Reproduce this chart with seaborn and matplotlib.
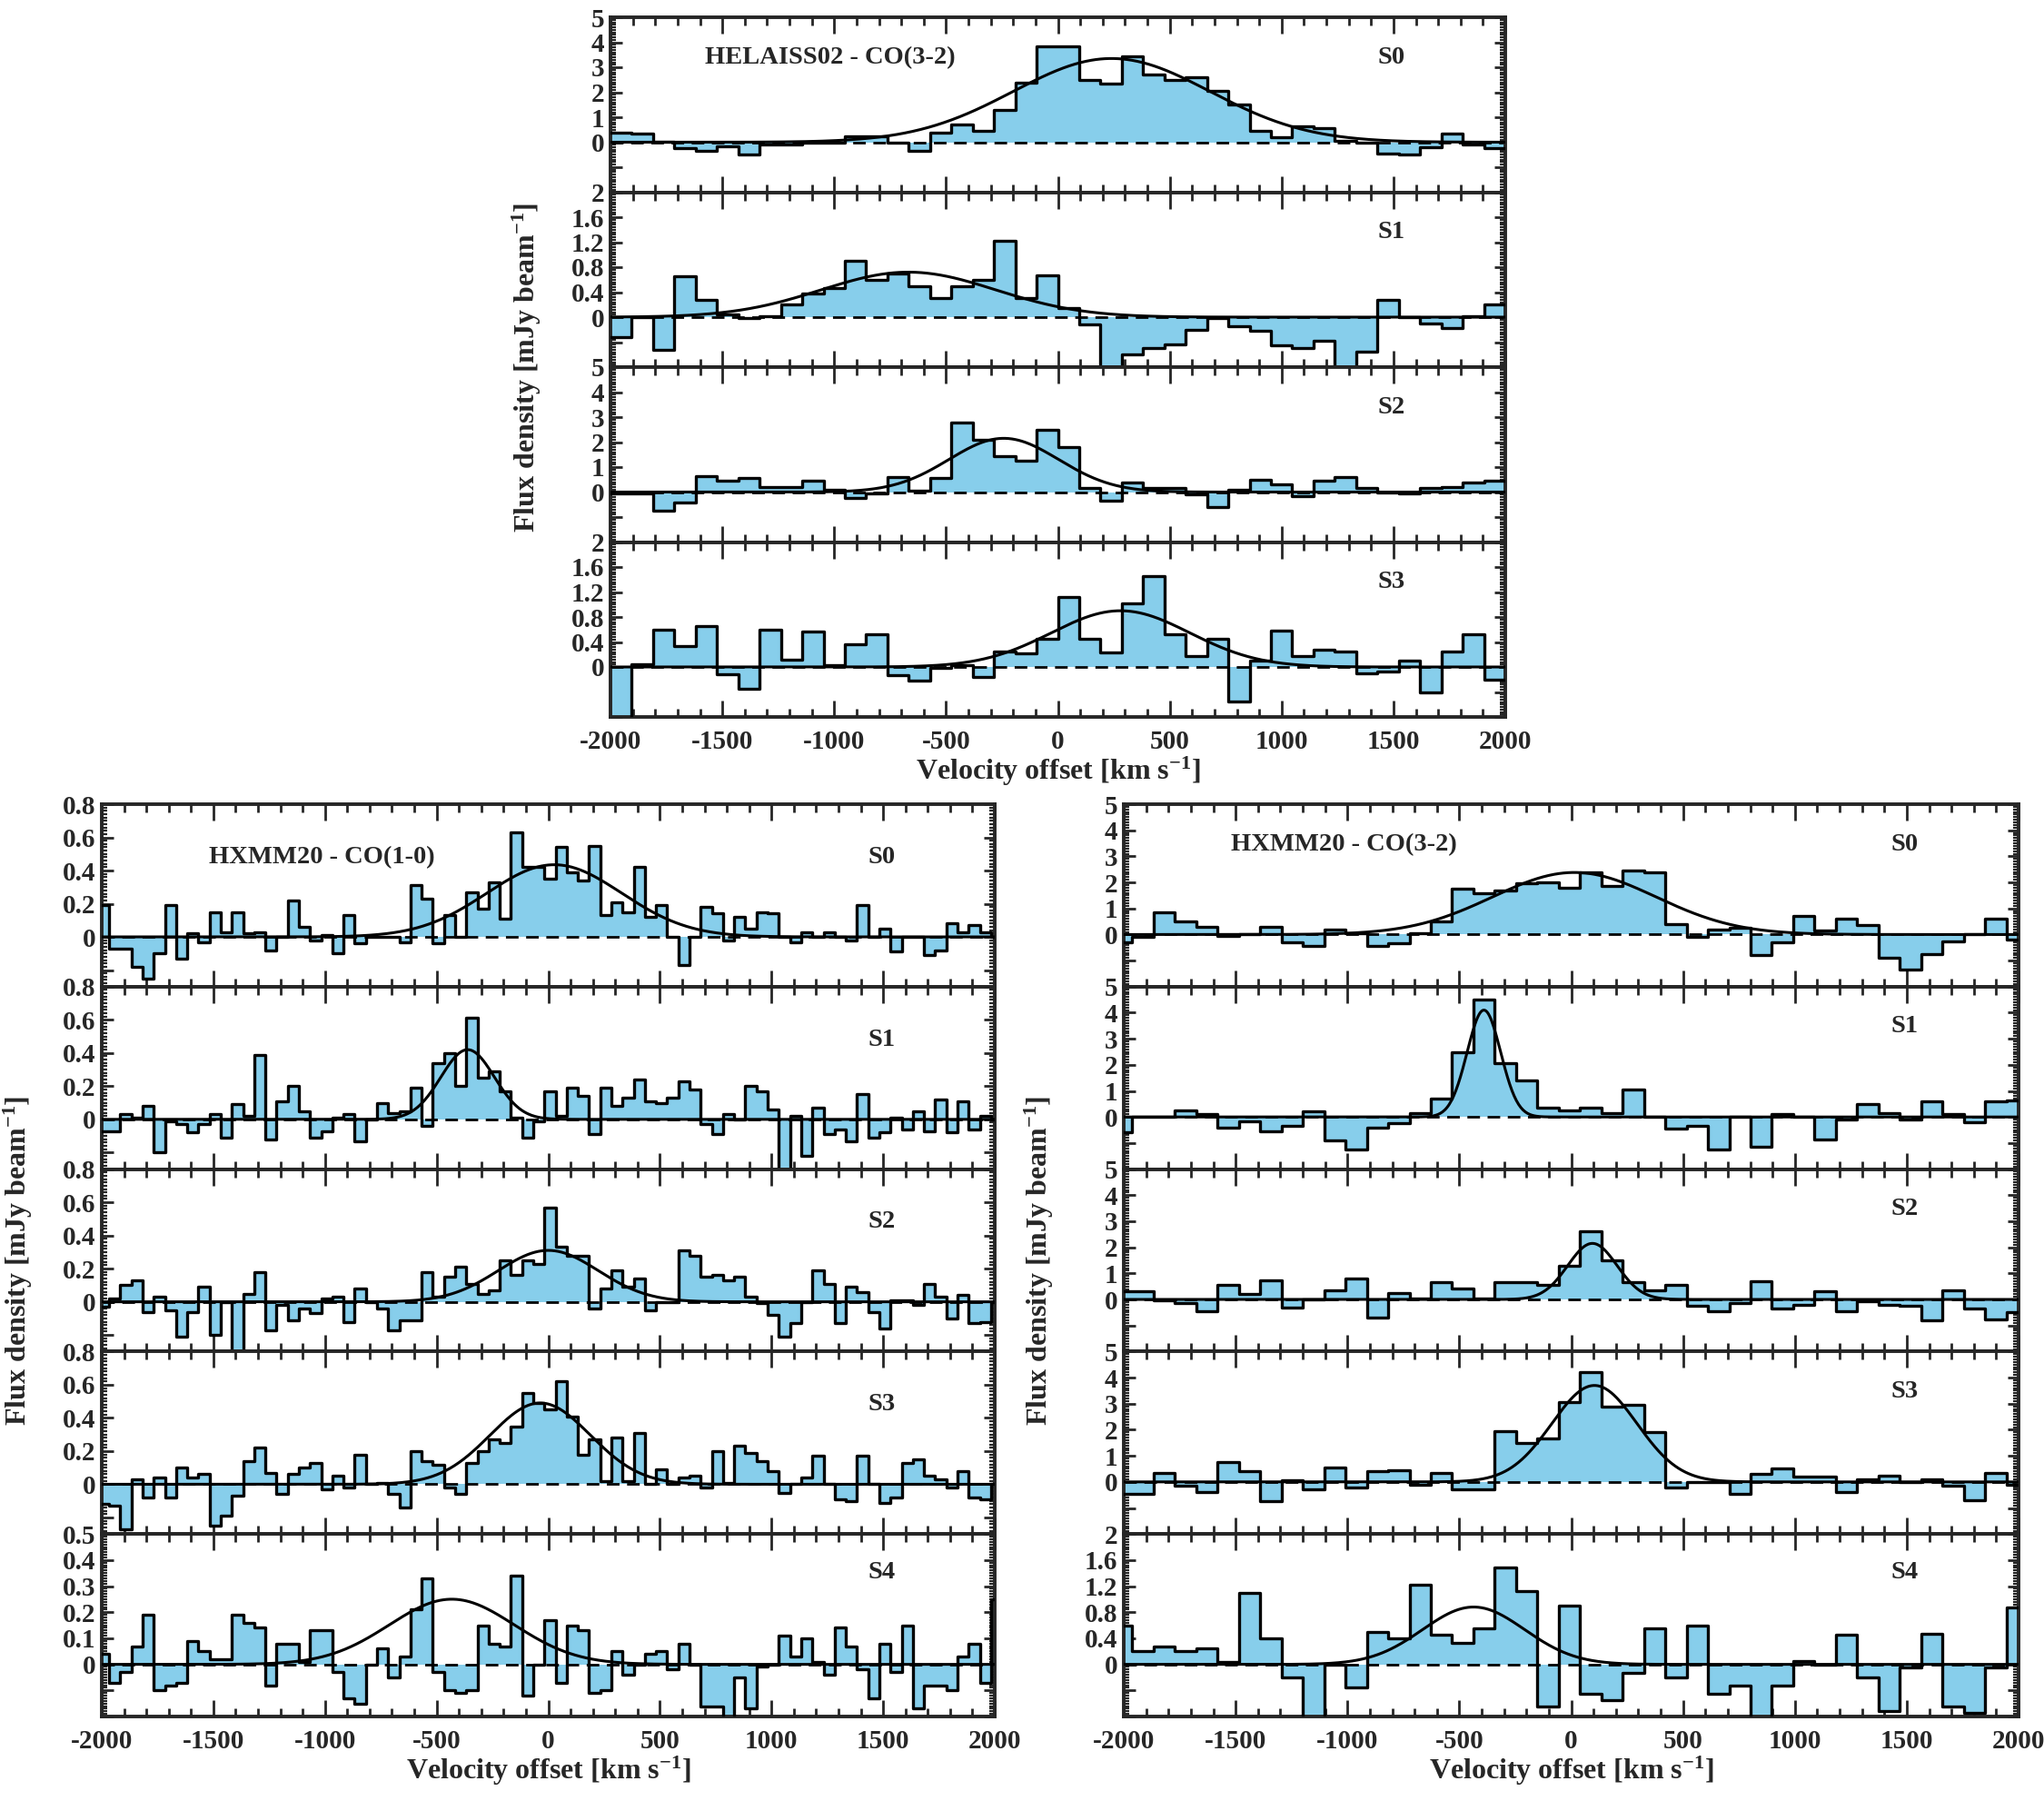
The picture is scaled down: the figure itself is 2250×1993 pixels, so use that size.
import numpy as np
import pandas as pd
import matplotlib
matplotlib.use("Agg")
import matplotlib.pyplot as plt
from matplotlib.ticker import MultipleLocator, AutoMinorLocator, FuncFormatter
import seaborn as sns

# -----------------------------------
# Data (flux per velocity channel, mJy/beam)
# -----------------------------------
TOP_EDGES = np.linspace(-2000, 2000, 43)          # HELAISS02 CO(3-2) channels
BL_EDGES = np.arange(82) * 50.0 - 2017            # HXMM20 CO(1-0) channels
BR_EDGES = np.arange(44) * 95.3 - 2057            # HXMM20 CO(3-2) channels

HEL_S0 = [0.38, 0.33, 0.02, -0.25, -0.35, -0.15, -0.5, -0.1, -0.1, 0.0,
          0.0, 0.25, 0.22, -0.03, -0.35, 0.4, 0.7, 0.45, 1.3, 2.4,
          3.85, 3.85, 2.5, 2.35, 3.45, 2.7, 2.5, 2.6, 2.05, 1.5,
          0.45, 0.2, 0.65, 0.55, 0.05, 0.0, -0.45, -0.5, -0.2, 0.35,
          -0.1, -0.25]
HEL_S1 = [-0.32, 0.0, -0.53, 0.65, 0.27, 0.05, -0.02, 0.01, 0.2, 0.38,
          0.47, 0.9, 0.6, 0.7, 0.5, 0.3, 0.5, 0.6, 1.22, 0.3,
          0.67, 0.15, -0.12, -0.85, -0.6, -0.5, -0.43, -0.2, -0.02, -0.15,
          -0.22, -0.45, -0.5, -0.38, -0.85, -0.55, 0.27, 0.0, -0.1, -0.17,
          0.02, 0.2]
HEL_S2 = [-0.05, -0.05, -0.75, -0.4, 0.65, 0.45, 0.55, 0.2, 0.2, 0.45,
          0.1, -0.25, -0.05, 0.6, 0.05, 0.55, 2.8, 2.1, 1.45, 1.25,
          2.5, 1.8, 0.15, -0.35, 0.4, 0.15, 0.15, -0.1, -0.6, 0.1,
          0.5, 0.3, -0.15, 0.45, 0.6, 0.15, 0.0, -0.05, 0.15, 0.2,
          0.38, 0.45]
HEL_S3 = [-0.85, 0.05, 0.6, 0.33, 0.65, -0.12, -0.35, 0.6, 0.12, 0.57,
          0.03, 0.36, 0.53, -0.13, -0.22, -0.02, 0.03, -0.16, 0.25, 0.22,
          0.45, 1.12, 0.45, 0.24, 1.02, 1.45, 0.52, 0.18, 0.45, -0.55,
          0.1, 0.58, 0.17, 0.28, 0.25, -0.1, -0.07, 0.1, -0.4, 0.25,
          0.53, -0.2]

C10_S0 = [0.19, -0.07, -0.07, -0.18, -0.25, -0.1, 0.19, -0.13, 0.02, -0.03,
          0.15, 0.03, 0.15, 0.02, 0.03, -0.08, 0.0, 0.22, 0.06, -0.02,
          0.01, -0.1, 0.13, -0.04, 0.0, 0.0, 0.0, -0.03, 0.31, 0.23,
          -0.04, 0.13, 0.0, 0.27, 0.17, 0.33, 0.11, 0.63, 0.42, 0.42,
          0.35, 0.54, 0.39, 0.34, 0.55, 0.13, 0.21, 0.15, 0.42, 0.12,
          0.19, 0.0, -0.17, 0.0, 0.18, 0.14, -0.02, 0.12, 0.05, 0.15,
          0.14, 0.0, -0.03, 0.03, 0.0, 0.03, 0.0, -0.02, 0.19, 0.0,
          0.05, -0.09, 0.0, 0.0, -0.11, -0.08, 0.08, 0.03, 0.07, 0.03,
          0.0]
C10_S1 = [-0.07, -0.07, 0.03, 0.01, 0.08, -0.2, -0.01, -0.03, -0.08, -0.03,
          0.03, -0.11, 0.09, 0.02, 0.39, -0.12, 0.11, 0.2, 0.05, -0.11,
          -0.07, 0.01, 0.03, -0.13, 0.0, 0.1, 0.04, 0.05, 0.19, -0.04,
          0.34, 0.4, 0.2, 0.61, 0.25, 0.29, 0.17, 0.01, -0.11, -0.01,
          0.17, 0.02, 0.19, 0.14, -0.09, 0.19, 0.08, 0.13, 0.24, 0.11,
          0.1, 0.13, 0.23, 0.18, -0.03, -0.09, 0.03, 0.0, 0.2, 0.17,
          0.06, -0.32, 0.02, -0.22, 0.07, -0.09, -0.06, -0.13, 0.15, -0.11,
          -0.08, 0.01, -0.06, 0.05, -0.07, 0.12, -0.08, 0.11, -0.06, 0.02,
          0.0]
C10_S2 = [-0.03, 0.02, 0.1, 0.13, -0.06, 0.03, -0.05, -0.21, -0.06, 0.09,
          -0.2, 0.0, -0.32, 0.05, 0.18, -0.17, -0.02, -0.11, -0.04, -0.07,
          0.02, 0.03, -0.12, 0.08, 0.0, -0.04, -0.17, -0.11, -0.11, 0.18,
          0.03, 0.15, 0.21, 0.11, 0.05, 0.07, 0.25, 0.16, 0.25, 0.23,
          0.57, 0.33, 0.28, 0.28, -0.04, 0.08, 0.19, 0.09, 0.14, -0.05,
          0.0, 0.0, 0.31, 0.28, 0.15, 0.16, 0.13, 0.15, 0.03, -0.01,
          -0.08, -0.21, -0.13, 0.0, 0.19, 0.11, -0.13, 0.09, 0.06, -0.06,
          -0.16, 0.01, 0.01, -0.02, 0.11, 0.03, -0.1, 0.04, -0.13, -0.12,
          0.0]
C10_S3 = [-0.12, -0.13, -0.27, 0.03, -0.08, 0.04, -0.08, 0.1, 0.04, 0.06,
          -0.25, -0.19, -0.07, 0.14, 0.22, 0.07, -0.06, 0.06, 0.1, 0.13,
          -0.03, 0.05, -0.02, 0.18, 0.0, 0.01, -0.06, -0.14, 0.2, 0.14,
          0.12, -0.02, -0.06, 0.13, 0.2, 0.27, 0.25, 0.35, 0.55, 0.49,
          0.45, 0.62, 0.41, 0.18, 0.27, 0.02, 0.28, 0.02, 0.31, 0.0,
          0.09, 0.0, 0.04, 0.05, -0.02, 0.2, 0.01, 0.23, 0.19, 0.14,
          0.08, -0.05, 0.0, 0.04, 0.17, 0.0, -0.09, -0.1, 0.17, 0.0,
          -0.11, -0.08, 0.13, 0.15, 0.05, 0.03, -0.02, 0.08, -0.08, -0.09,
          0.0]
C10_S4 = [0.04, -0.07, -0.03, 0.07, 0.19, -0.1, -0.08, -0.07, 0.09, 0.05,
          0.02, 0.02, 0.19, 0.16, 0.14, -0.08, 0.08, 0.08, 0.01, 0.13,
          0.13, -0.03, -0.13, -0.15, 0.0, 0.06, -0.05, 0.03, 0.21, 0.33,
          -0.03, -0.1, -0.11, -0.1, 0.15, 0.08, 0.07, 0.34, -0.12, 0.0,
          0.17, -0.07, 0.15, 0.13, -0.11, -0.1, 0.05, -0.04, 0.0, 0.04,
          0.05, -0.02, 0.08, 0.0, -0.16, -0.16, -0.22, -0.05, -0.17, -0.01,
          0.0, 0.11, 0.03, 0.1, 0.01, -0.04, 0.14, 0.07, -0.02, -0.13,
          0.08, -0.03, 0.15, -0.17, -0.08, -0.08, -0.1, 0.03, 0.08, -0.07,
          0.25]

C32_S0 = [-0.3, -0.1, 0.85, 0.5, 0.3, -0.05, 0.0, 0.3, -0.3, -0.45,
          0.2, 0.05, -0.45, -0.35, 0.05, 0.5, 1.75, 1.6, 1.7, 1.95,
          2.0, 1.8, 2.4, 1.85, 2.45, 2.4, 0.4, -0.1, 0.2, 0.25,
          -0.8, -0.3, 0.7, 0.15, 0.6, 0.35, -0.9, -1.35, -0.75, -0.25,
          0.0, 0.6, -0.2]
C32_S1 = [-0.6, 0.0, 0.02, 0.25, 0.1, -0.4, -0.15, -0.55, -0.35, 0.2,
          -0.9, -1.25, -0.4, -0.25, 0.15, 0.7, 2.5, 4.5, 2.05, 1.4,
          0.35, 0.25, 0.35, 0.15, 1.05, 0.0, -0.45, -0.35, -1.25, 0.0,
          -1.15, 0.1, 0.0, -0.85, -0.1, 0.5, 0.15, -0.1, 0.6, 0.1,
          -0.2, 0.6, 0.65]
C32_S2 = [0.3, 0.3, -0.02, -0.15, -0.45, 0.55, 0.2, 0.75, -0.3, 0.0,
          0.35, 0.8, -0.7, 0.25, 0.05, 0.68, 0.42, 0.05, 0.65, 0.65,
          0.55, 1.3, 2.6, 1.5, 0.65, 0.35, 0.55, -0.25, -0.45, -0.15,
          0.7, -0.35, -0.2, 0.3, -0.45, -0.08, -0.2, -0.25, -0.8, 0.35,
          -0.35, -0.75, -0.5]
C32_S3 = [-0.45, -0.45, 0.35, -0.15, -0.4, 0.75, 0.4, -0.75, 0.05, -0.3,
          0.55, -0.2, 0.4, 0.45, -0.1, 0.35, -0.3, -0.3, 1.95, 1.5,
          1.65, 3.05, 4.2, 2.9, 2.95, 1.9, -0.2, 0.0, 0.0, -0.45,
          0.3, 0.5, 0.2, 0.2, -0.4, 0.1, 0.25, 0.0, 0.1, -0.15,
          -0.7, 0.35, -0.1]
C32_S4 = [0.6, 0.2, 0.27, 0.2, 0.25, 0.03, 1.1, 0.4, -0.2, -0.9,
          0.0, -0.35, 0.5, 0.4, 1.22, 0.45, 0.33, 0.55, 1.48, 1.12,
          -0.65, 0.9, -0.45, -0.55, -0.13, 0.55, -0.2, 0.6, -0.45, -0.33,
          -0.9, -0.33, 0.05, 0.0, 0.45, -0.2, -0.72, -0.05, 0.47, -0.65,
          -0.75, -0.05, 0.88]

# Gaussian fits: (amplitude, centre km/s, sigma km/s)
HEL_FITS = [(3.35, 240, 440), (0.72, -668, 390), (2.15, -242, 245), (0.9, 280, 310)]
C10_FITS = [(0.435, 27, 302), (0.42, -361, 120), (0.31, 0, 224), (0.49, -36, 224), (0.25, -432, 280)]
C32_FITS = [(2.38, 14, 365), (4.1, -390, 75), (2.15, 95, 110), (3.7, 104, 190), (0.88, -436, 228)]

PANEL_TAGS = ["S0", "S1", "S2", "S3", "S4"]

FILL = "#87CEEB"
FS_TICK = 21
FS_TAG = 20.5
FS_LABEL = 23

# -----------------------------------
# Style
# -----------------------------------
sns.set_style("ticks")
plt.rcParams['font.family'] = ['Liberation Serif', 'DejaVu Serif']
plt.rcParams['font.weight'] = 'bold'
plt.rcParams['axes.unicode_minus'] = False
plt.rcParams['mathtext.fontset'] = 'custom'
plt.rcParams['mathtext.rm'] = 'Liberation Serif:bold'
plt.rcParams['mathtext.it'] = 'Liberation Serif:bold'
plt.rcParams['mathtext.bf'] = 'Liberation Serif:bold'
plt.rcParams['mathtext.default'] = 'rm'

W, H = 2250, 1993
fig = plt.figure(figsize=(W / 100, H / 100), dpi=100)


def ytick_fmt(v, pos):
    if v < -1e-6:
        return ""
    return f"{round(v, 3):g}"


def draw_panel(ax, edges, flux, fit, ylim, ystep, tag, tag_y, bottom):
    edges = [float(e) for e in edges]
    centers = [0.5 * (a + b) for a, b in zip(edges[:-1], edges[1:])]
    df = pd.DataFrame({"v": centers, "f": flux})

    sns.histplot(data=df, x="v", weights="f", bins=edges, element="step",
                 fill=True, color=FILL, alpha=1, linewidth=0, ax=ax, zorder=1)
    ax.axhline(0, color="black", lw=2, ls=(0, (5, 3)), zorder=2)
    sns.histplot(data=df, x="v", weights="f", bins=edges, element="step",
                 fill=False, color="black", linewidth=2.4, ax=ax, zorder=3)

    amp, mu, sig = fit
    vgrid = np.linspace(-2000, 2000, 801)
    model = amp * np.exp(-0.5 * ((vgrid - mu) / sig) ** 2)
    sns.lineplot(x=vgrid, y=model, color="black", lw=2.2, ax=ax,
                 estimator=None, zorder=4)

    ax.set_xlim(-2000, 2000)
    ax.set_ylim(*ylim)
    ax.set_xlabel("")
    ax.set_ylabel("")

    ax.xaxis.set_major_locator(MultipleLocator(500))
    ax.xaxis.set_minor_locator(MultipleLocator(100))
    ax.yaxis.set_major_locator(MultipleLocator(ystep))
    ax.yaxis.set_minor_locator(AutoMinorLocator(10))
    ax.yaxis.set_major_formatter(FuncFormatter(ytick_fmt))

    ax.tick_params(axis="x", which="major", direction="in", length=13, width=2,
                   top=True, bottom=True, labelbottom=bottom,
                   labelsize=FS_TICK, pad=10)
    ax.tick_params(axis="x", which="minor", direction="in", length=6.5, width=2,
                   top=True, bottom=True)
    ax.tick_params(axis="y", which="major", direction="in", length=9, width=2,
                   left=True, right=True, labelsize=FS_TICK, pad=5)
    ax.tick_params(axis="y", which="minor", direction="in", length=4.5, width=1.6,
                   left=True, right=True)
    for s in ax.spines.values():
        s.set_linewidth(2.8)

    ax.text(0.873, tag_y, tag, transform=ax.transAxes, ha="center", va="center",
            fontsize=FS_TAG, fontweight="bold")


def draw_group(left, right, top, bottom, edges, series, fits, ylims, ysteps,
               tag_ys, title, title_x, ylabel_x):
    n = len(series)
    ph = (bottom - top) / n
    axes = []
    for i in range(n):
        y_top = top + i * ph
        ax = fig.add_axes([left / W, 1 - (y_top + ph) / H,
                           (right - left) / W, ph / H])
        draw_panel(ax, edges, series[i], fits[i], ylims[i], ysteps[i],
                   PANEL_TAGS[i], tag_ys[i], bottom=(i == n - 1))
        axes.append(ax)
    axes[0].text(title_x, tag_ys[0], title, transform=axes[0].transAxes,
                 ha="left", va="center", fontsize=FS_TAG, fontweight="bold")
    axes[-1].set_xlabel("Velocity offset [km s$^{-1}$]", fontsize=FS_LABEL,
                        fontweight="bold", labelpad=1)
    fig.text(ylabel_x / W, 1 - (top + bottom) / 2 / H,
             "Flux density [mJy beam$^{-1}$]", rotation=90, ha="center",
             va="center", fontsize=FS_LABEL, fontweight="bold")
    return axes


# HELAISS02 - CO(3-2)
draw_group(672, 1657, 19, 789, TOP_EDGES,
           [HEL_S0, HEL_S1, HEL_S2, HEL_S3], HEL_FITS,
           [(-2, 5), (-0.8, 2), (-2, 5), (-0.8, 2)], [1, 0.4, 1, 0.4],
           [0.77, 0.77, 0.77, 0.77], "HELAISS02 - CO(3-2)", 0.106, 580)

# HXMM20 - CO(1-0)
draw_group(112, 1095, 885, 1889, BL_EDGES,
           [C10_S0, C10_S1, C10_S2, C10_S3, C10_S4], C10_FITS,
           [(-0.3, 0.8)] * 4 + [(-0.2, 0.5)], [0.2, 0.2, 0.2, 0.2, 0.1],
           [0.71, 0.71, 0.71, 0.71, 0.79], "HXMM20 - CO(1-0)", 0.12, 20)

# HXMM20 - CO(3-2)
draw_group(1237, 2222, 885, 1889, BR_EDGES,
           [C32_S0, C32_S1, C32_S2, C32_S3, C32_S4], C32_FITS,
           [(-2, 5)] * 4 + [(-0.8, 2)], [1, 1, 1, 1, 0.4],
           [0.78, 0.78, 0.78, 0.78, 0.79], "HXMM20 - CO(3-2)", 0.12, 1144)

fig.savefig("out.png", dpi=100, facecolor="white")
print("saved out.png")
